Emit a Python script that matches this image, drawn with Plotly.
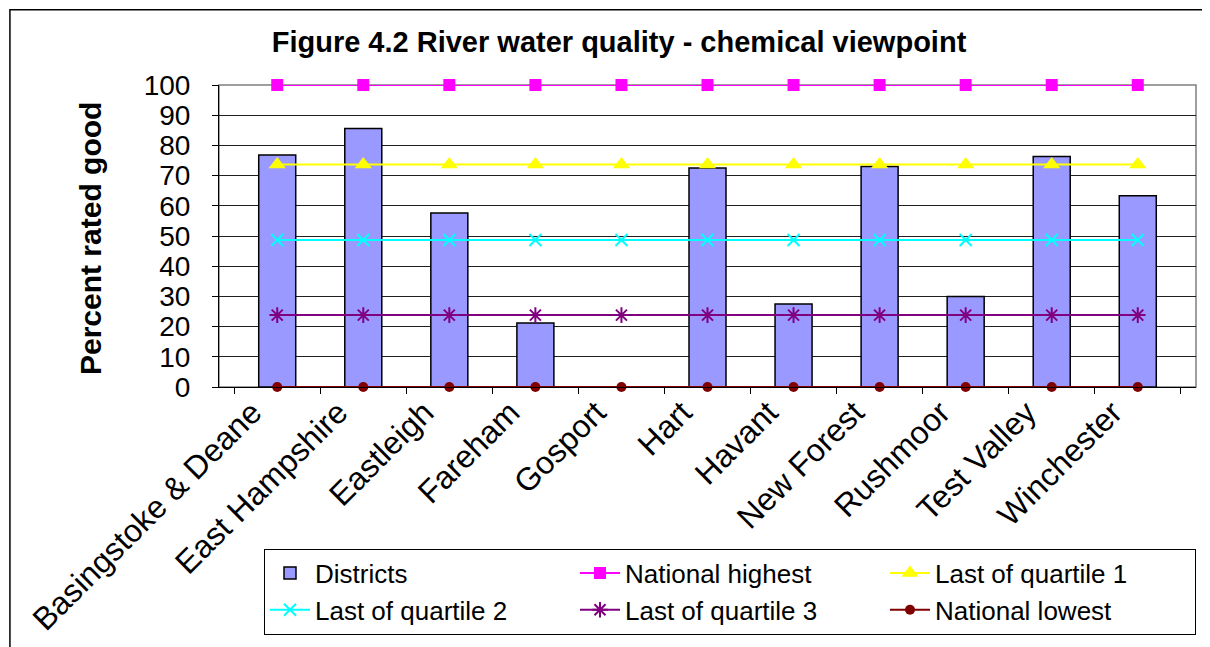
"""Figure 4.2 River water quality - chemical viewpoint"""

import plotly.graph_objects as go

FONT = "Liberation Sans, Arial, sans-serif"

districts = ["Basingstoke & Deane", "East Hampshire", "Eastleigh", "Fareham",
             "Gosport", "Hart", "Havant", "New Forest", "Rushmoor",
             "Test Valley", "Winchester"]
percent_good = [76.8, 85.6, 57.6, 21.2, 0, 72.5, 27.5, 73.0, 30.0, 76.3, 63.3]

national_highest = [100] * 11
quartile_1 = [73.7] * 11
quartile_2 = [48.7] * 11
quartile_3 = [23.8] * 11
national_lowest = [0] * 11


def line(name, values, color, symbol, size, **marker):
    return go.Scatter(
        x=districts, y=values, name=name, mode="lines+markers",
        line=dict(color=color, width=2),
        marker=dict(symbol=symbol, size=size, color=color, **marker),
        cliponaxis=False,
    )


fig = go.Figure([
    go.Bar(x=districts, y=percent_good, name="Districts",
           marker=dict(color="#9999FF", line=dict(color="black", width=1.5))),
    line("National highest", national_highest, "#FF00FF", "square", 12),
    line("Last of quartile 1", quartile_1, "#FFFF00", "triangle-up", 15),
    line("Last of quartile 2", quartile_2, "#00FFFF", "x-thin-open", 12,
         line=dict(color="#00FFFF", width=2)),
    line("Last of quartile 3", quartile_3, "#800080", "asterisk-open", 13,
         line=dict(color="#800080", width=2)),
    line("National lowest", national_lowest, "#800000", "circle", 10),
])

# the page body adds an 8px margin, so the figure is 8px smaller than the window
fig.update_layout(
    width=1202, height=639,
    margin=dict(l=211, r=14, t=77, b=257),
    paper_bgcolor="white", plot_bgcolor="white",
    font=dict(family=FONT, color="black", size=28),
    bargap=0.57,
    title=dict(text="<b>Figure 4.2 River water quality - chemical viewpoint</b>",
               x=611 / 1202, xanchor="center", y=1 - 34 / 639, yanchor="middle",
               font=dict(size=29)),
    legend=dict(orientation="h", x=1.0, xanchor="right",
                y=(390 - 640) / 305, yanchor="bottom",
                entrywidth=255, entrywidthmode="pixels",
                bordercolor="black", borderwidth=1, font=dict(size=26),
                itemwidth=40),
    showlegend=True,
)

fig.update_xaxes(
    type="category", tickangle=-45, tickfont=dict(size=32), automargin=False,
    showline=True, linecolor="black", linewidth=1,
    ticks="outside", ticklen=6, tickcolor="black", tickson="boundaries",
    ticklabelshift=-25, ticklabelstandoff=-7,
    showgrid=False,
)
fig.update_yaxes(
    range=[0, 100], dtick=10, tickfont=dict(size=28), automargin=False,
    showline=True, linecolor="black", linewidth=1,
    ticks="outside", ticklen=6, tickcolor="black", ticklabelstandoff=16,
    showgrid=True, gridcolor="#202020", gridwidth=1, zeroline=False,
)

fig.add_annotation(text="<b>Percent rated good</b>", textangle=-90,
                   xref="paper", yref="paper", x=(90 - 219) / 977, y=0.49,
                   xanchor="center", yanchor="middle",
                   showarrow=False, font=dict(size=30))

# plot area border (top/right in grey) and outer chart frame
fig.add_shape(type="rect", xref="paper", yref="paper", x0=0, x1=1, y0=0, y1=1,
              line=dict(color="#808080", width=1.5), layer="below")
fig.add_shape(type="rect", xref="paper", yref="paper",
              x0=-0.214, x1=1.05, y0=-0.9, y1=1.249,
              line=dict(color="black", width=1.5))

fig.write_html("out.html")
